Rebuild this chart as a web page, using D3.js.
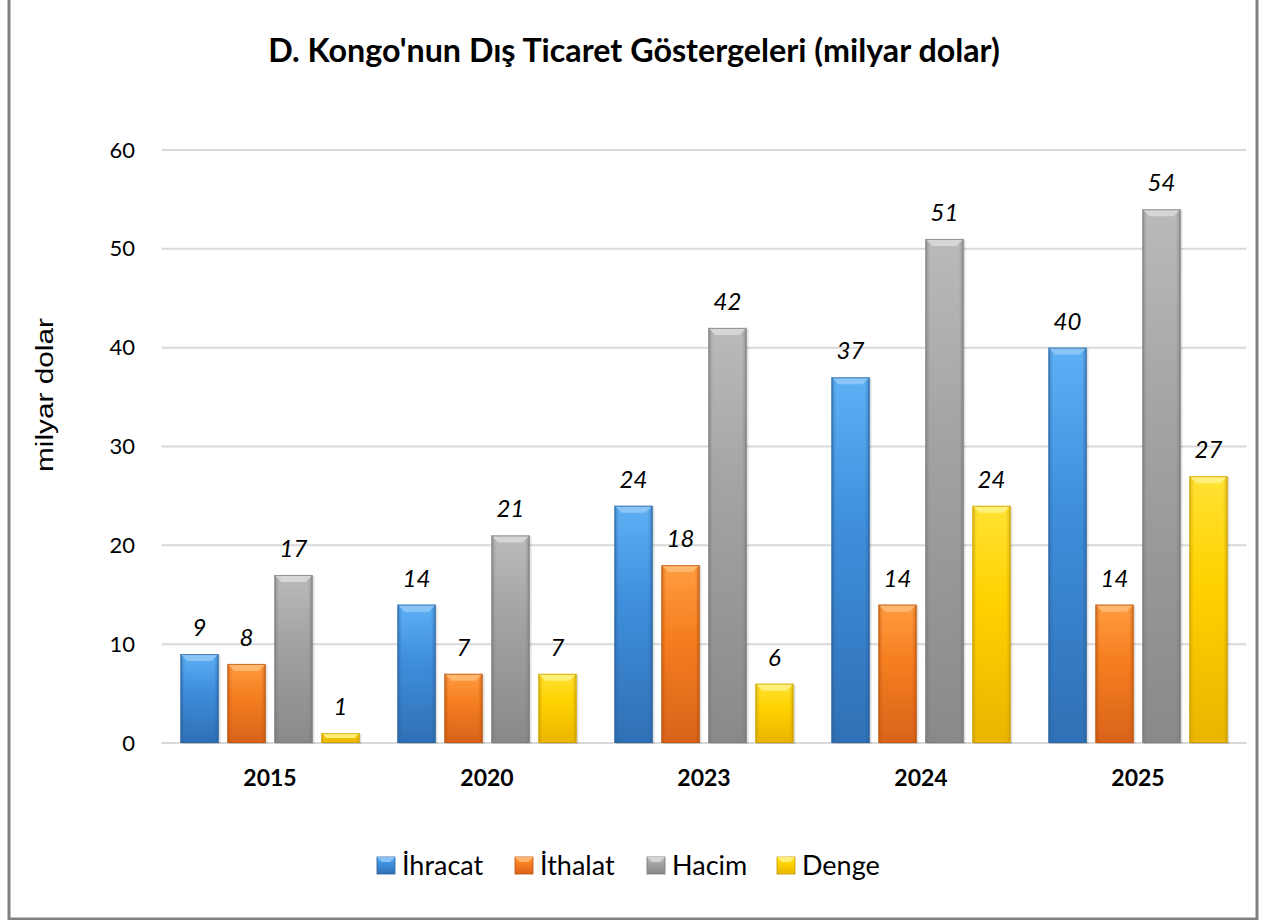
<!DOCTYPE html>
<html><head><meta charset="utf-8">
<script src="https://cdn.jsdelivr.net/npm/d3@7"></script>
<style>body{margin:0;background:#fff}svg{display:block}</style>
</head><body>
<svg id="c" width="1266" height="920"></svg>
<script>
const years = ["2015","2020","2023","2024","2025"];
const seriesNames = ["İhracat","İthalat","Hacim","Denge"];
const ihracat = [9,14,24,37,40];
const ithalat = [8,7,18,14,14];
const hacim = [17,21,42,51,54];
const denge = [1,7,6,24,27];
const yTicks = [0,10,20,30,40,50,60];
const titleText = "D. Kongo'nun Dış Ticaret Göstergeleri (milyar dolar)";
const yTitle = "milyar dolar";

const seriesValues = [ihracat, ithalat, hacim, denge];
const palette = [
  {top:"#5eb0f5", mid:"#3f8fdc", bot:"#2f70b5", edge:"#2a5f9a", hi:"#93c9f7"},
  {top:"#ff9c40", mid:"#f67f20", bot:"#d9631a", edge:"#b8520f", hi:"#ffbb75"},
  {top:"#bababa", mid:"#a3a3a3", bot:"#898989", edge:"#767676", hi:"#dadada"},
  {top:"#ffe233", mid:"#ffd200", bot:"#ebb500", edge:"#c49a00", hi:"#fff285"}
];
const FONT = "Lato, 'Open Sans', sans-serif";

const svg = d3.select("#c");
const defs = svg.append("defs");
palette.forEach((p,i)=>{
  const g = defs.append("linearGradient").attr("id","g"+i).attr("x1",0).attr("x2",0).attr("y1",0).attr("y2",1);
  g.append("stop").attr("offset","0%").attr("stop-color",p.top);
  g.append("stop").attr("offset","40%").attr("stop-color",p.mid);
  g.append("stop").attr("offset","100%").attr("stop-color",p.bot);
  const h = defs.append("linearGradient").attr("id","h"+i).attr("x1",0).attr("x2",1).attr("y1",0).attr("y2",0);
  h.append("stop").attr("offset","0%").attr("stop-color",p.edge).attr("stop-opacity",0.55);
  h.append("stop").attr("offset","12%").attr("stop-color",p.edge).attr("stop-opacity",0.0);
  h.append("stop").attr("offset","88%").attr("stop-color",p.edge).attr("stop-opacity",0.0);
  h.append("stop").attr("offset","100%").attr("stop-color",p.edge).attr("stop-opacity",0.55);
});

// frame
svg.append("rect").attr("x",9).attr("y",-3).attr("width",1248).attr("height",922)
  .attr("fill","#fff").attr("stroke","#808080").attr("stroke-width",3);

const y = d3.scaleLinear().domain([0,60]).range([743,150]);
const x0 = d3.scaleBand().domain(years).range([161.5,1246.5]).padding(0);
const x1 = d3.scaleBand().domain(seriesNames).range([19,198]).paddingInner(0.19).paddingOuter(0);

// gridlines
svg.append("g").selectAll("line").data(yTicks).join("line")
  .attr("x1",161.5).attr("x2",1246.5).attr("y1",d=>y(d)).attr("y2",d=>y(d))
  .attr("stroke","#d9d9d9").attr("stroke-width",2);

// y axis labels
const yAxis = svg.append("g").attr("transform","translate(161.5,0)")
  .call(d3.axisLeft(y).tickValues(yTicks).tickSize(0).tickPadding(26.5));
yAxis.select(".domain").remove();
yAxis.selectAll("text").attr("font-family",FONT).attr("font-size",22).attr("fill","#000");

// x axis labels
const xAxis = svg.append("g").attr("transform","translate(0,743)")
  .call(d3.axisBottom(x0).tickSize(0));
xAxis.select(".domain").remove();
xAxis.selectAll("text").attr("y",43).attr("dy",null).attr("font-family",FONT).attr("font-size",23)
  .attr("font-weight","bold").attr("fill","#000");

// bars
const data = [];
years.forEach((yr,i)=>seriesNames.forEach((s,j)=>data.push({yr, s, j, v: seriesValues[j][i]})));

const bars = svg.append("g").selectAll("g").data(data).join("g")
  .attr("transform", d=>`translate(${x0(d.yr)+x1(d.s)},0)`);
const bw = x1.bandwidth();
bars.each(function(d){
  const g = d3.select(this);
  const top = y(d.v), bot = y(0), h = bot-top;
  const p = palette[d.j];
  const bv = Math.min(7, h/2);
  g.append("rect").attr("x",1).attr("y",top+1).attr("width",bw+1).attr("height",h).attr("fill","#000").attr("opacity",0.12);
  g.append("rect").attr("x",0).attr("y",top).attr("width",bw).attr("height",h).attr("fill",`url(#g${d.j})`);
  g.append("rect").attr("x",0).attr("y",top).attr("width",bw).attr("height",h).attr("fill",`url(#h${d.j})`);
  g.append("path").attr("d",`M0,${top}L${bw},${top}L${bw-bv},${top+bv}L${bv},${top+bv}Z`)
    .attr("fill",p.hi).attr("opacity",0.85);
  g.append("path").attr("d",`M0,${bot}L${bw},${bot}L${bw-bv},${bot-bv}L${bv},${bot-bv}Z`)
    .attr("fill",p.bot).attr("opacity",0.6);
  g.append("rect").attr("x",0.5).attr("y",top+0.5).attr("width",bw-1).attr("height",Math.max(0,h-1))
    .attr("fill","none").attr("stroke",p.edge).attr("stroke-width",1).attr("opacity",0.7);
  g.append("text").attr("x",bw/2).attr("y",top-18).attr("text-anchor","middle")
    .attr("font-family",FONT).attr("font-style","italic").attr("font-size",24)
    .attr("fill","#000").text(d.v);
});

// title
const t = svg.append("text").attr("x",634).attr("y",62).attr("text-anchor","middle")
  .attr("font-family",FONT).attr("font-weight","bold").attr("font-size",28)
  .attr("fill","#000").text(titleText);
const tw = t.node().getComputedTextLength();
t.attr("font-size", 28*732/tw);

// y title
svg.append("text").attr("transform","translate(45,395) rotate(-90)").attr("text-anchor","middle")
  .attr("dy","0.35em")
  .attr("font-family","'Liberation Sans', Arial, sans-serif").attr("font-size",23).attr("fill","#000")
  .attr("textLength",154).attr("lengthAdjust","spacingAndGlyphs").text(yTitle);

// legend
const legX = [377, 515, 647, 777];
const leg = svg.append("g").selectAll("g").data(seriesNames).join("g")
  .attr("transform",(d,i)=>`translate(${legX[i]},857)`);
leg.each(function(d,i){
  const g = d3.select(this);
  const p = palette[i];
  g.append("rect").attr("width",18).attr("height",17).attr("fill",`url(#g${i})`).attr("stroke",p.edge).attr("stroke-width",0.8);
  g.append("path").attr("d","M0,0L18,0L13,5L5,5Z").attr("fill",p.hi).attr("opacity",0.85);
  g.append("text").attr("x",25).attr("y",18).attr("font-family",FONT)
    .attr("font-size",27).attr("fill","#000").text(d);
});
</script>
</body></html>
